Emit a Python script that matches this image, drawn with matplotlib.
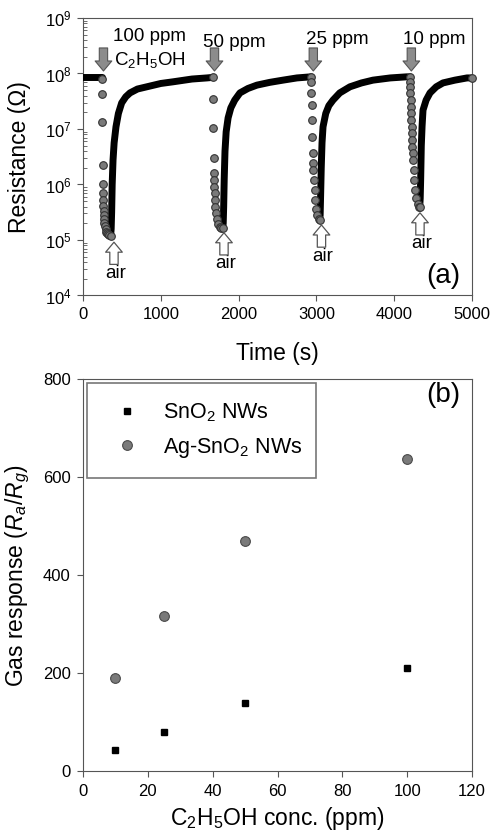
import numpy as np
import matplotlib
matplotlib.use("Agg")
import matplotlib.pyplot as plt

plt.rcParams['font.family'] = ['Liberation Sans', 'DejaVu Sans']
plt.rcParams['mathtext.fontset'] = 'custom'
plt.rcParams['mathtext.rm'] = 'Liberation Sans'
plt.rcParams['mathtext.it'] = 'Liberation Sans:italic'

# ---- panel (a): resistance transient (log10 ohm)
base_t = [0, 240]
base_logR = [7.93, 7.93]

# gas exposure points (grey dots) and recovery (black trace), one pair per pulse
gas1_t = [240, 244, 248, 252, 255, 257, 259, 261, 264, 267, 271, 276, 282, 290, 300, 312, 325, 340, 355]
gas1_logR = [7.90, 7.63, 7.13, 6.35, 6.01, 5.85, 5.72, 5.62, 5.52, 5.45, 5.38, 5.31, 5.25, 5.19, 5.15, 5.12, 5.10, 5.09, 5.08]
rec1_t = [355, 362, 368, 375, 386, 400, 424, 455, 497, 550, 604, 700, 820, 1000, 1157, 1400, 1593, 1670]
rec1_logR = [5.08, 5.2, 5.5, 6.0, 6.44, 6.75, 7.04, 7.28, 7.47, 7.58, 7.65, 7.72, 7.76, 7.82, 7.85, 7.90, 7.92, 7.93]

gas2_t = [1670, 1672, 1675, 1678, 1681, 1684, 1687, 1691, 1696, 1702, 1710, 1722, 1738, 1758, 1780, 1795]
gas2_logR = [7.93, 7.54, 7.02, 6.48, 6.21, 6.08, 5.96, 5.85, 5.72, 5.60, 5.49, 5.38, 5.29, 5.24, 5.22, 5.22]
rec2_t = [1795, 1802, 1808, 1815, 1825, 1840, 1865, 1900, 1950, 2017, 2120, 2235, 2400, 2570, 2750, 2930]
rec2_logR = [5.22, 5.3, 5.6, 6.1, 6.6, 6.95, 7.2, 7.38, 7.52, 7.65, 7.73, 7.79, 7.84, 7.88, 7.92, 7.94]

gas3_t = [2930, 2932, 2935, 2938, 2942, 2946, 2951, 2956, 2961, 2968, 2976, 2986, 2998, 3012, 3028, 3042]
gas3_logR = [7.94, 7.85, 7.65, 7.43, 7.16, 6.86, 6.57, 6.39, 6.26, 6.08, 5.90, 5.72, 5.56, 5.45, 5.38, 5.36]
rec3_t = [3042, 3048, 3054, 3062, 3072, 3085, 3120, 3160, 3213, 3300, 3431, 3580, 3727, 3950, 4163, 4200]
rec3_logR = [5.36, 5.45, 5.8, 6.3, 6.75, 7.04, 7.28, 7.42, 7.52, 7.65, 7.76, 7.83, 7.88, 7.92, 7.94, 7.94]

gas4_t = [4200, 4203, 4206, 4209, 4212, 4215, 4218, 4221, 4224, 4227, 4230, 4234, 4238, 4243, 4250, 4258, 4268, 4282, 4300, 4320, 4328]
gas4_logR = [7.94, 7.85, 7.76, 7.65, 7.52, 7.40, 7.29, 7.16, 7.04, 6.93, 6.80, 6.68, 6.57, 6.44, 6.26, 6.08, 5.90, 5.75, 5.65, 5.60, 5.60]
rec4_t = [4328, 4334, 4340, 4348, 4358, 4370, 4410, 4460, 4540, 4627, 4780, 4936, 5000]
rec4_logR = [5.60, 5.75, 6.1, 6.7, 7.05, 7.34, 7.52, 7.65, 7.76, 7.83, 7.88, 7.92, 7.92]

gas_runs = [(gas1_t, gas1_logR), (gas2_t, gas2_logR), (gas3_t, gas3_logR), (gas4_t, gas4_logR)]
rec_runs = [(base_t, base_logR), (rec1_t, rec1_logR), (rec2_t, rec2_logR), (rec3_t, rec3_logR), (rec4_t, rec4_logR)]

conc_labels = ["100 ppm", "50 ppm", "25 ppm", "10 ppm"]
gas_on_t = [263, 1690, 2960, 4220]
air_on_t = [398, 1812, 3065, 4331]
air_tip_logR = [4.96, 5.13, 5.27, 5.49]

# ---- panel (b): gas response vs concentration
conc = [10, 25, 50, 100]
resp_sno2 = [43, 80, 138, 211]
resp_ag = [190, 317, 470, 636]

fig = plt.figure(figsize=(4.92, 8.33), dpi=100)
spine_col = '#555555'

# ===== (a)
ax1 = fig.add_axes([0.1687, 0.6453, 0.7907, 0.3331])
for t, lr in rec_runs:
    ax1.plot(t, 10 ** np.array(lr), color='black', lw=5, solid_capstyle='round', zorder=3)
for t, lr in gas_runs:
    ax1.plot(t, 10 ** np.array(lr), 'o', ms=5.5, mfc='#7a7a7a', mec='#333333', mew=0.8, zorder=4)
ax1.plot([5000], [10 ** 7.92], 'o', ms=5.5, mfc='#7a7a7a', mec='#333333', mew=0.8, zorder=4, clip_on=False)

ax1.set_yscale('log')
ax1.set_xlim(0, 5000)
ax1.set_ylim(1e4, 1e9)
ax1.set_xticks([0, 1000, 2000, 3000, 4000, 5000])
ax1.tick_params(axis='both', which='major', labelsize=12, direction='out', length=4,
                color=spine_col, pad=4)
ax1.tick_params(axis='y', which='minor', direction='in', length=3, color=spine_col)
ax1.set_xlabel('Time (s)', fontsize=16.5, labelpad=15)
ax1.set_ylabel('Resistance (Ω)', fontsize=16.5, labelpad=10)
for s in ax1.spines.values():
    s.set_color(spine_col)

# gas arrows (grey, pointing down)
for i, t0 in enumerate(gas_on_t):
    ax1.annotate('', xy=(t0, 10 ** 8.045), xytext=(t0, 10 ** 8.46),
                 arrowprops=dict(arrowstyle='simple,head_length=0.6,head_width=1.0,tail_width=0.5',
                                 fc='#8c8c8c', ec='#555555', lw=0.8, mutation_scale=12,
                                 shrinkA=0, shrinkB=0), zorder=5)
label_pos = [(860, 10 ** 8.66), (1950, 10 ** 8.55), (3270, 10 ** 8.62), (4520, 10 ** 8.62)]
for lab, (x, y) in zip(conc_labels, label_pos):
    ax1.text(x, y, lab, fontsize=13.5, ha='center', va='center')
ax1.text(860, 10 ** 8.25, 'C$_2$H$_5$OH', fontsize=13.5, ha='center', va='center')

# air arrows (open, pointing up)
for t0, lr in zip(air_on_t, air_tip_logR):
    ax1.annotate('', xy=(t0, 10 ** lr), xytext=(t0, 10 ** (lr - 0.4)),
                 arrowprops=dict(arrowstyle='simple,head_length=0.6,head_width=1.0,tail_width=0.5',
                                 fc='white', ec='#555555', lw=0.9, mutation_scale=12,
                                 shrinkA=0, shrinkB=0), zorder=5)
    ax1.text(t0 + 20, 10 ** (lr - 0.56), 'air', fontsize=13.5, ha='center', va='center')
ax1.text(0.97, 0.07, '(a)', transform=ax1.transAxes, fontsize=20, ha='right', va='center')

# ===== (b)
ax2 = fig.add_axes([0.1687, 0.0744, 0.7907, 0.4706])
ax2.plot(conc, resp_sno2, 's', ms=5, color='black', label='SnO$_2$ NWs', zorder=3)
ax2.plot(conc, resp_ag, 'o', ms=7, mfc='#7a7a7a', mec='#4a4a4a', mew=0.8,
         label='Ag-SnO$_2$ NWs', zorder=3)
ax2.set_xlim(0, 120)
ax2.set_ylim(0, 800)
ax2.set_xticks(np.arange(0, 121, 20))
ax2.set_yticks(np.arange(0, 801, 200))
ax2.tick_params(axis='both', labelsize=12, direction='out', length=4, color=spine_col, pad=5)
ax2.set_xlabel('C$_2$H$_5$OH conc. (ppm)', fontsize=16.5, labelpad=5)
ax2.set_ylabel('Gas response ($R_a$/$R_g$)', fontsize=16.5, labelpad=8)
for s in ax2.spines.values():
    s.set_color(spine_col)

leg = ax2.legend(loc='upper left', bbox_to_anchor=(0.010, 0.75, 0.589, 0.24), mode='expand',
                 fontsize=15.5, frameon=True, fancybox=False, borderpad=0.85,
                 handlelength=2.0, handletextpad=0.7, labelspacing=0.55, borderaxespad=0)
leg.get_frame().set_edgecolor(spine_col)
leg.get_frame().set_linewidth(1.2)
ax2.text(0.97, 0.96, '(b)', transform=ax2.transAxes, fontsize=20, ha='right', va='center')

fig.savefig('out.png', dpi=100)
